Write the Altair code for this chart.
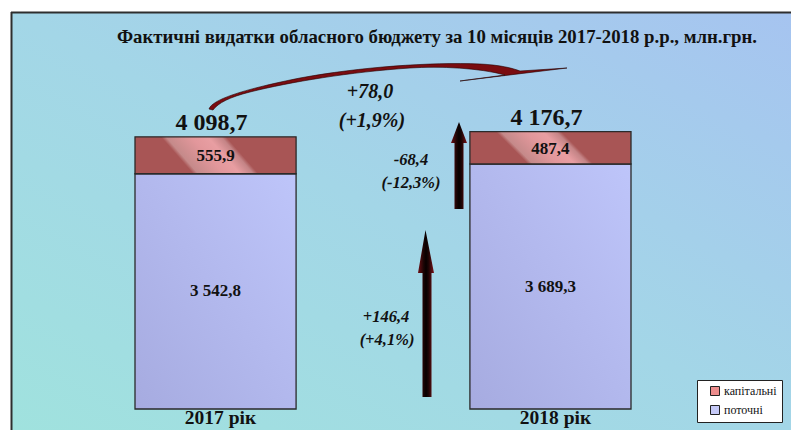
import altair as alt
import pandas as pd

# ---- data ----
years = ["2017 рік", "2018 рік"]
current = [3542.8, 3689.3]      # поточні
capital = [555.9, 487.4]        # капітальні
series = ["капітальні", "поточні"]
change_labels = ["+78,0", "(+1,9%)", "-68,4", "(-12,3%)", "+146,4", "(+4,1%)"]
title_text = "Фактичні видатки обласного бюджету за 10 місяців 2017-2018 р.р., млн.грн."


def fmt(v):
    s = f"{round(v, 1):,.1f}"
    return s.replace(",", " ").replace(".", ",")


df = pd.DataFrame({"year": years, "current": current, "capital": capital})
df["total"] = (df["current"] + df["capital"]).round(1)
df["current_mid"] = df["current"] / 2
df["capital_mid"] = df["current"] + df["capital"] / 2
df["current_lbl"] = df["current"].map(fmt)
df["capital_lbl"] = df["capital"].map(fmt)
df["total_lbl"] = df["total"].map(fmt)

one = pd.DataFrame({"k": [0]})
legend_df = pd.DataFrame({"series": series})

W, H = 783, 422
FONT = "Liberation Serif"

xs = alt.X("year:N", scale=alt.Scale(range=[127, 623], paddingInner=0.519, paddingOuter=0), axis=None)
ys = alt.Scale(domain=[0, 6039], range=[401, 0], nice=False, zero=True)

# ---- background ----
bg = alt.Chart(one).mark_rect(
    fill=alt.Gradient(gradient="linear", x1=0, y1=1, x2=1, y2=0,
                      stops=[alt.GradientStop(offset=0, color="#a0e2de"),
                             alt.GradientStop(offset=0.5, color="#a3d6e7"),
                             alt.GradientStop(offset=1, color="#a6c4f0")])
).encode(x=alt.value(3), x2=alt.value(W), y=alt.value(4), y2=alt.value(H))

frame_l = alt.Chart(one).mark_rule(color="#2e2e2e", strokeWidth=2).encode(
    x=alt.value(3.5), y=alt.value(4), y2=alt.value(H))
frame_t = alt.Chart(one).mark_rule(color="#2e2e2e", strokeWidth=2).encode(
    x=alt.value(3), x2=alt.value(W), y=alt.value(4.5))

# ---- bars ----
blue_fill = alt.Gradient(gradient="linear", x1=0, y1=1, x2=1, y2=0,
                         stops=[alt.GradientStop(offset=0, color="#a6abe0"),
                                alt.GradientStop(offset=1, color="#bec5fa")])
red_fill = alt.Gradient(gradient="linear", x1=0, y1=0.6, x2=1, y2=0.4,
                        stops=[alt.GradientStop(offset=0, color="#a85555"),
                               alt.GradientStop(offset=0.27, color="#a85555"),
                               alt.GradientStop(offset=0.30, color="#c58a8a"),
                               alt.GradientStop(offset=0.45, color="#e2979b"),
                               alt.GradientStop(offset=0.55, color="#e89ea2"),
                               alt.GradientStop(offset=0.63, color="#c48486"),
                               alt.GradientStop(offset=0.66, color="#a85555"),
                               alt.GradientStop(offset=1, color="#a85555")])

bar_cur = alt.Chart(df).mark_bar(fill=blue_fill, stroke="#2a2a2a", strokeWidth=1.3).encode(
    x=xs, y=alt.Y("current:Q", scale=ys, axis=None), y2=alt.datum(0))
bar_cap = alt.Chart(df).mark_bar(fill=red_fill, stroke="#2a2a2a", strokeWidth=1.3).encode(
    x=xs, y=alt.Y("total:Q", scale=ys, axis=None), y2="current:Q")

lbl_cur = alt.Chart(df).mark_text(font=FONT, fontSize=17, fontWeight="bold", color="#111",
                                  baseline="middle").encode(
    x=xs, y=alt.Y("current_mid:Q", scale=ys), text="current_lbl:N")
lbl_cap = alt.Chart(df).mark_text(font=FONT, fontSize=17, fontWeight="bold", color="#111",
                                  baseline="middle", dy=1).encode(
    x=xs, y=alt.Y("capital_mid:Q", scale=ys), text="capital_lbl:N")
lbl_tot = alt.Chart(df).mark_text(font=FONT, fontSize=24, fontWeight="bold", color="#111",
                                  baseline="alphabetic", dy=-7, dx=-4).encode(
    x=xs, y=alt.Y("total:Q", scale=ys), text="total_lbl:N")
lbl_year = alt.Chart(df).mark_text(font=FONT, fontSize=19.5, fontWeight="bold", color="#111",
                                   baseline="alphabetic", dx=5).encode(
    x=xs, y=alt.value(415.5), text="year:N")

# ---- title ----
title = alt.Chart(one).mark_text(font=FONT, fontSize=18.8, fontWeight="bold", color="#111",
                                 baseline="alphabetic", align="center").encode(
    x=alt.value(429), y=alt.value(35), text=alt.value(title_text))

# ---- change annotations ----
ann_layout = [(362, 84, 20), (364, 113, 20), (403, 152, 16.5), (403, 175, 16.5),
              (378, 309, 16.5), (379, 332, 16.5)]
ann = []
for txt, (ax, ay, fs) in zip(change_labels, ann_layout):
    ann.append(alt.Chart(one).mark_text(font=FONT, fontSize=fs, fontWeight="bold", fontStyle="italic",
                                        color="#111", baseline="middle", align="center").encode(
        x=alt.value(ax), y=alt.value(ay), text=alt.value(txt)))

# ---- arrows (decorative glyphs, drawn in page pixels) ----
arrow_fill = alt.Gradient(gradient="linear", x1=0, y1=0, x2=1, y2=0,
                          stops=[alt.GradientStop(offset=0, color="#6e1016"),
                                 alt.GradientStop(offset=0.35, color="#1c0505"),
                                 alt.GradientStop(offset=0.5, color="#080000"),
                                 alt.GradientStop(offset=0.65, color="#1c0505"),
                                 alt.GradientStop(offset=1, color="#7a1218")])
low_arrow = "M425.5,230 L434,273 L431.5,273 L431.5,397 L422.5,397 L422.5,273 L418,273 Z"
up_arrow = "M459,122 L467,143 L463.5,143 L463.5,209 L454.5,209 L454.5,143 L451,143 Z"
curve = ("M209,109 C212,100 240,90 300,78 C360,67 430,62 480,64 C500,65 512,68 520,71 "
         "L567,68 L460,81 L505,75 C480,68 440,66 410,68 C350,72 290,82 250,92 "
         "C230,97 218,103 213,110 Z")

arrows = []
for path in (low_arrow, up_arrow):
    arrows.append(alt.Chart(one).mark_point(shape=path, size=4, filled=True, fill=arrow_fill,
                                            opacity=1, strokeWidth=0).encode(
        x=alt.value(-8), y=alt.value(-8)))
arrows.append(alt.Chart(one).mark_point(shape=curve, size=4, filled=True, fill="#7a0c10",
                                        stroke="#250000", strokeWidth=0.6, opacity=1).encode(
    x=alt.value(-8), y=alt.value(-8)))

# ---- legend ----
leg = alt.Chart(legend_df).mark_square(size=81, filled=True, opacity=1, stroke="#222",
                                       strokeWidth=1).encode(
    x=alt.value(-60), y=alt.value(-60),
    color=alt.Color("series:N",
                    scale=alt.Scale(domain=series, range=["#ec8c8c", "#c6caf8"]),
                    legend=alt.Legend(title=None, orient="none", legendX=689, legendY=372,
                                      symbolType="square", symbolSize=81,
                                      symbolStrokeColor="#222", symbolStrokeWidth=1,
                                      fillColor="white", strokeColor="#222", padding=5,
                                      labelFont=FONT, labelFontSize=12, labelColor="#111",
                                      rowPadding=5, symbolOffset=7, labelOffset=3)))

chart = alt.layer(bg, frame_l, frame_t, bar_cur, bar_cap, lbl_cur, lbl_cap, lbl_tot, lbl_year,
                  title, *ann, *arrows, leg).properties(
    width=W, height=H, padding=0, autosize="none", background="white"
).configure_view(strokeWidth=0)

chart.save("out.html", embed_options={"renderer": "svg", "actions": False})
